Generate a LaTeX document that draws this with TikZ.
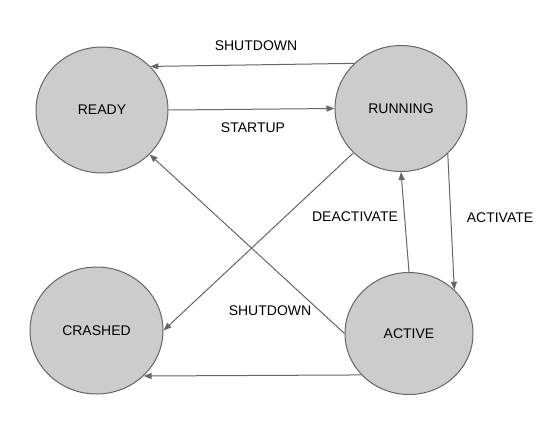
\documentclass[tikz,border=0pt]{standalone}
\usepackage{fontspec}
\setmainfont{Liberation Sans}
\usetikzlibrary{shapes.geometric,arrows.meta}
\definecolor{edgegray}{HTML}{666666}
\definecolor{statefill}{HTML}{CCCCCC}
\begin{document}
\begin{tikzpicture}[x=1pt,y=-1pt,
  state/.style={ellipse,draw=edgegray,fill=statefill,line width=1pt,inner sep=0pt,
    minimum width=132pt,minimum height=126pt,font=\fontsize{14}{16}\selectfont},
  lbl/.style={inner sep=0pt,font=\fontsize{14}{16}\selectfont},
  trans/.style={draw=edgegray,line width=1pt,-{Triangle[length=8pt,width=6pt]},shorten >=0pt}]
\useasboundingbox (0,0) rectangle (559,421);
\node[state] (ready) at (102,110) {READY};
\node[state] (running) at (401,108.5) {RUNNING};
\node[state,minimum width=133pt,minimum height=127pt] (crashed) at (96.5,330.5) {CRASHED};
\node[state,minimum width=128pt,minimum height=122pt] (active) at (409,333.5) {ACTIVE};

\draw[trans] (running.136.8) -- (ready.42.5);
\draw[trans] (ready.east) -- (running.west);
\draw[trans] (active.west) -- (ready.-43.8);
\draw[trans] (running.223.5) -- (crashed.east);
\draw[trans] (active.north) -- (running.south);
\draw[trans] (running.-44.3) -- (active.44.5);
\draw[trans] (active.221.7) -- (crashed.-44);

\node[lbl] (l1) at (256,46) {SHUTDOWN};
\node[lbl] (l2) at (253,128) {STARTUP};
\node[lbl] (l3) at (355,217) {DEACTIVATE};
\node[lbl] (l4) at (500,218) {ACTIVATE};
\node[lbl] (l5) at (270,311) {SHUTDOWN};
\end{tikzpicture}
\end{document}
